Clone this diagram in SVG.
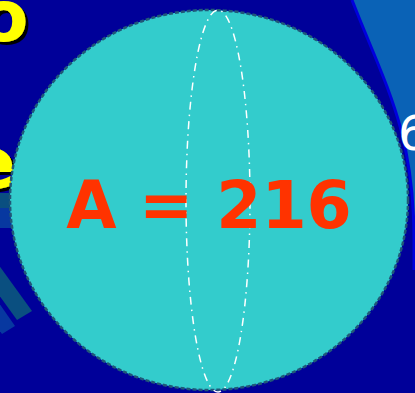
<svg xmlns="http://www.w3.org/2000/svg" width="415" height="393" viewBox="0 0 415 393">
<defs>
<filter id="sh" x="-20%" y="-20%" width="150%" height="150%">
<feDropShadow dx="3" dy="3" stdDeviation="0" flood-color="#000000" flood-opacity="1"/>
</filter>
</defs>
<style>
.yel{font-family:"DejaVu Sans",sans-serif;font-weight:bold;font-size:72px;fill:#ffff00;filter:url(#sh)}
</style>
<rect x="0" y="0" width="415" height="393" fill="#000099"/>
<g id="backdrop">
<path d="M352,0 C385,85 414,130 414,240 L420,240 L420,0 Z" fill="#0a62b6" stroke="none"/>
<path d="M352,0 C385,85 414,130 414,240 L414,270" fill="none" stroke="#0000dd" stroke-width="3"/>
<polygon points="-12,250 32,311 17,320 -27,259" fill="#0a4f80"/>
<polygon points="-6,296 15,326 2,334 -19,304" fill="#0738a0"/>
<rect x="0" y="193" width="14" height="15" fill="#0a4f80"/>
<rect x="0" y="208" width="14" height="20" fill="#0738a0"/>
<text class="yel" x="-21" y="41">o</text>
<text class="yel" x="-33" y="188">e</text>
<text x="398" y="150" font-family="DejaVu Sans,sans-serif" font-size="48" fill="#ffffff">6</text>
</g>
<g id="sphere">
<ellipse cx="209" cy="200" rx="199" ry="190" fill="#33cccc" stroke="#205878" stroke-width="2.5" stroke-dasharray="4 2"/>
<ellipse cx="218" cy="201" rx="32" ry="191" fill="none" stroke="#ffffff" stroke-width="1.5" stroke-dasharray="8 5 1.5 5"/>
<text x="209" y="228" text-anchor="middle" font-family="DejaVu Sans,sans-serif" font-weight="bold" font-size="65" fill="#ff3300">A = 216</text>
</g>
<g id="connectors"/>
</svg>
